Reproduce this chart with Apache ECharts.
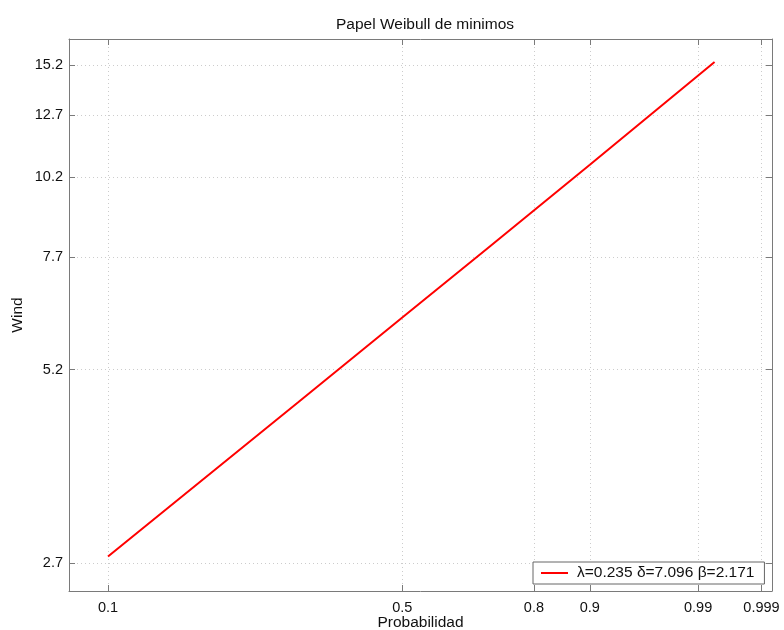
<!DOCTYPE html>
<html><head><meta charset="utf-8">
<script src="https://cdn.jsdelivr.net/npm/echarts@6/dist/echarts.min.js"></script>
<style>html,body{margin:0;padding:0;background:#fff}#c{width:784px;height:630px}</style>
</head><body><div id="c"></div>
<script>
// Weibull (minima) fitted parameters
const lambda = 0.235, delta = 7.096, beta = 2.171;
// Probability tick labels (x) and Wind tick labels (y)
const probTicks = [0.1, 0.5, 0.8, 0.9, 0.99, 0.999];
const windTicks = [2.7, 5.2, 7.7, 10.2, 12.7, 15.2];
// Fitted line: probability vs wind
const prob = [0.1, 0.3, 0.5, 0.7, 0.9, 0.994];
const wind = [2.757, 4.65, 6.23, 7.96, 10.66, 15.37];

const tx = p => Math.log(-Math.log(1 - p));
const ty = w => Math.log(w - lambda);
const xTickVals = probTicks.map(tx);
const yTickVals = windTicks.map(ty);
const nearest = (vals, labels, v) => {
  let bi = 0, bd = Infinity;
  vals.forEach((t, i) => { const d = Math.abs(t - v); if (d < bd) { bd = d; bi = i; } });
  return String(labels[bi]);
};
const seriesName = 'λ=' + lambda.toFixed(3) + ' δ=' + delta.toFixed(3) + ' β=' + beta.toFixed(3);
const font = 'Liberation Sans, Arial, Helvetica, sans-serif';
const axisCol = '#7a7a7a';

function xAx(pos, show) {
  return {
    type: 'value', position: pos, min: -2.5, max: 2,
    name: show ? 'Probabilidad' : '', nameLocation: 'middle', nameGap: 24, nameMoveOverlap: false,
    nameTextStyle: { fontFamily: font, fontSize: 15.5, color: '#111' },
    axisLine: { show: true, onZero: false, lineStyle: { color: axisCol, width: 1 } },
    axisTick: { show: true, inside: true, length: 6, customValues: xTickVals, lineStyle: { color: axisCol } },
    axisLabel: { show: show, customValues: xTickVals, margin: 9, fontFamily: font, fontSize: 14.5, color: '#111',
      formatter: v => nearest(xTickVals, probTicks, v) },
    splitLine: { show: show, lineStyle: { color: '#cccccc', type: [1, 3], width: 1 } }
  };
}
function yAx(pos, show) {
  return {
    type: 'value', position: pos, min: 0.8, max: 2.8,
    name: show ? 'Wind' : '', nameLocation: 'middle', nameGap: 43, nameMoveOverlap: false,
    nameTextStyle: { fontFamily: font, fontSize: 15.5, color: '#111' },
    axisLine: { show: true, onZero: false, lineStyle: { color: axisCol, width: 1 } },
    axisTick: { show: true, inside: true, length: 6, customValues: yTickVals, lineStyle: { color: axisCol } },
    axisLabel: { show: show, customValues: yTickVals, margin: 6, fontFamily: font, fontSize: 14.5, color: '#111',
      formatter: v => nearest(yTickVals, windTicks, v) },
    splitLine: { show: show, lineStyle: { color: '#cccccc', type: [1, 3], width: 1 } }
  };
}

const chart = echarts.init(document.getElementById('c'), null, { renderer: 'canvas' });
chart.setOption({
  animation: false,
  backgroundColor: '#fff',
  title: { text: 'Papel Weibull de minimos', left: 420, textAlign: 'center', top: 12,
    textStyle: { fontFamily: font, fontSize: 15.5, fontWeight: 'normal', color: '#111' } },
  grid: { left: 69, right: 12, top: 39, bottom: 39, containLabel: false, outerBoundsMode: 'none' },
  xAxis: [xAx('bottom', true), xAx('top', false)],
  yAxis: [yAx('left', true), yAx('right', false)],
  legend: {
    left: 533, top: 562, orient: 'horizontal',
    backgroundColor: '#fff', borderColor: '#666', borderWidth: 1, borderRadius: 0,
    padding: [3, 10, 3, 8], itemWidth: 27, itemHeight: 2, itemGap: 6,
    textStyle: { fontFamily: font, fontSize: 15.5, color: '#111', padding: [0, 0, 0, 4] },
    data: [{ name: seriesName, icon: 'path://M0,0 H27 V2 H0 Z', itemStyle: { color: '#ff0000' } }]
  },
  series: [{
    name: seriesName, type: 'line', xAxisIndex: 0, yAxisIndex: 0,
    symbol: 'none', smooth: false,
    lineStyle: { color: '#ff0000', width: 2 }, itemStyle: { color: '#ff0000' },
    data: prob.map((p, i) => [tx(p), ty(wind[i])])
  }]
});
</script></body></html>
